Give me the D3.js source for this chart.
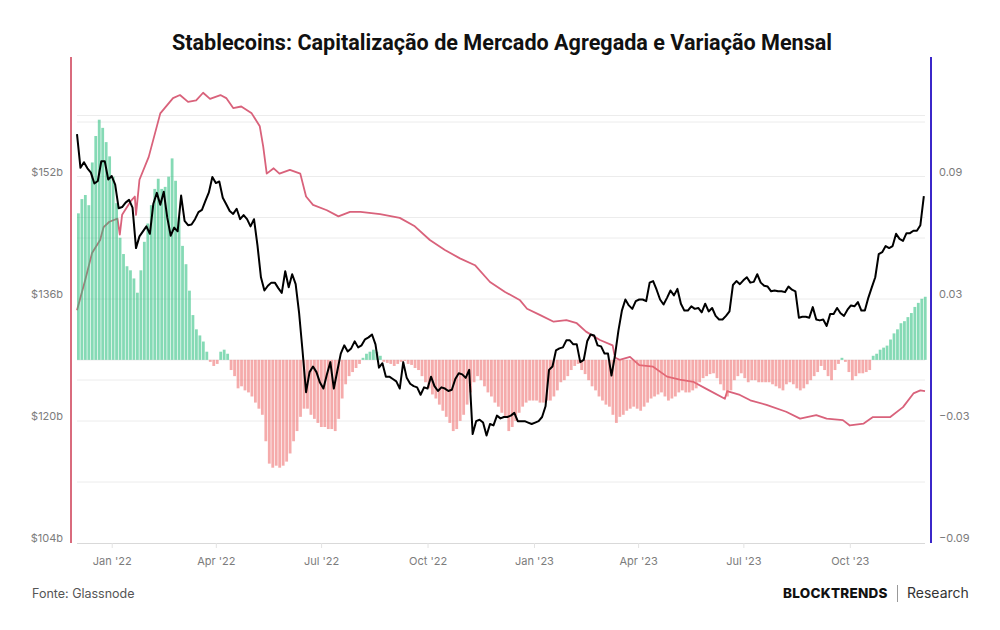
<!DOCTYPE html>
<html>
<head>
<meta charset="utf-8">
<script src="https://cdn.jsdelivr.net/npm/d3@7"></script>
<style>
  body { margin: 0; background: #fff; }
  svg { display: block; }
  text { font-family: Inter, "Noto Sans", sans-serif; }
</style>
</head>
<body>
<div id="chart"></div>
<script>
// stablecoin aggregate market cap, $b (left axis)
const capDates = ["2021-12-02","2021-12-09","2021-12-15","2021-12-22","2021-12-25","2021-12-30",
  "2022-01-06","2022-01-08","2022-01-10","2022-01-18","2022-01-21","2022-01-22","2022-01-25",
  "2022-02-02","2022-02-12","2022-02-23","2022-03-01","2022-03-08","2022-03-15","2022-03-21",
  "2022-03-27","2022-04-05","2022-04-10","2022-04-16","2022-04-23","2022-05-02","2022-05-09",
  "2022-05-12","2022-05-15","2022-05-21","2022-05-26","2022-06-04","2022-06-13","2022-06-18",
  "2022-06-24","2022-07-06","2022-07-16","2022-07-26","2022-08-04","2022-08-21","2022-09-07",
  "2022-09-20","2022-10-03","2022-10-16","2022-10-29","2022-11-11","2022-11-24","2022-12-07",
  "2022-12-20","2022-12-26","2023-01-06","2023-01-18","2023-01-29","2023-02-07","2023-02-15",
  "2023-02-27","2023-03-10","2023-03-12","2023-03-16","2023-03-25","2023-04-02","2023-04-14",
  "2023-04-26","2023-05-07","2023-05-19","2023-05-30","2023-06-15","2023-06-17","2023-06-28",
  "2023-07-07","2023-07-21","2023-08-07","2023-08-19","2023-09-02","2023-09-11","2023-09-25",
  "2023-10-01","2023-10-13","2023-10-21","2023-11-05","2023-11-16","2023-11-25","2023-12-01",
  "2023-12-05"];
const capValues = [134.5,138.4,142.0,143.7,145.4,146.1,
  146.5,144.4,147.0,148.9,149.4,147.0,151.6,
  154.6,160.3,162.3,162.7,161.8,162.0,163.0,
  162.2,162.7,162.3,161.0,161.2,160.3,158.6,
  155.9,152.4,153.1,152.4,152.9,152.4,149.4,
  148.3,147.6,146.8,147.4,147.4,147.1,146.6,
  145.5,143.7,142.4,141.3,140.4,138.2,136.9,
  135.8,134.7,133.9,133.0,133.2,132.8,131.7,
  130.6,129.9,128.3,128.0,128.4,127.3,127.1,
  125.8,125.4,125.1,124.2,122.9,123.9,123.4,
  122.7,122.1,121.2,120.3,120.75,120.3,120.1,
  119.4,119.65,120.5,120.5,121.8,123.6,124.0,
  123.9];

// BTC price, $k (hidden log axis) and 30-day change (right axis), one point every 3 days
const seriesStart = "2021-12-02";
const stepDays = 3;
const btcValues = [
  57.0,49.4,50.6,49.3,48.4,46.2,46.7,50.8,50.8,47.0,
  47.7,46.0,41.6,41.8,42.6,43.1,41.7,35.1,36.9,37.7,38.5,
  37.3,42.4,44.4,42.2,44.6,40.0,37.0,38.3,37.7,
  43.9,39.4,38.7,38.8,39.7,40.9,41.3,42.9,44.5,47.5,
  46.3,46.6,43.5,42.3,41.1,40.6,41.5,39.7,40.4,39.7,
  38.5,39.7,35.5,31.0,29.3,29.9,30.3,30.3,29.6,29.0,31.8,
  29.7,31.4,30.1,26.6,22.6,19.0,20.7,21.2,20.7,19.8,
  19.3,20.5,21.6,19.3,20.8,22.4,23.2,22.6,22.9,23.6,
  23.0,23.2,23.8,24.0,24.3,23.3,21.1,21.5,20.3,20.3,
  20.1,19.9,19.3,21.6,20.2,19.7,19.5,19.4,18.8,19.4,
  19.3,20.3,19.5,19.1,19.4,19.3,19.1,19.2,20.1,20.6,20.5,
  20.2,20.9,15.9,16.8,16.9,16.7,15.8,16.6,16.5,17.2,
  17.0,17.1,17.1,17.2,17.4,16.8,16.8,16.8,16.7,16.6,
  16.7,16.8,17.1,17.9,20.9,21.2,22.7,22.9,23.0,23.7,
  23.7,23.3,23.3,21.6,21.8,23.6,24.3,24.2,23.2,23.1,
  22.4,22.4,20.4,22.2,24.7,26.9,28.2,27.5,27.1,28.0,
  28.2,28.2,28.0,30.3,30.5,29.4,28.2,27.6,28.4,29.3,
  28.7,29.5,27.7,26.9,26.9,27.4,27.1,27.2,26.7,27.7,
  26.8,27.2,26.3,25.9,25.9,26.3,26.8,30.0,30.5,30.1,
  30.6,31.0,30.3,30.4,31.4,30.3,29.9,29.8,29.2,29.3,29.2,
  29.2,29.1,29.8,29.4,29.2,26.1,26.2,26.2,26.1,27.3,
  25.9,25.8,25.9,25.2,26.5,26.5,27.2,26.6,26.3,27.0,
  27.5,27.4,27.9,26.9,26.9,28.4,29.7,31.0,34.2,34.5,
  35.4,35.1,35.4,37.3,36.5,36.2,37.4,37.4,37.8,37.8,
  38.7,43.8];
const changeValues = [
  .072,.079,.081,.076,.097,.110,.118,.114,.107,.100,
  .090,.077,.060,.052,.046,.044,.040,.033,.044,.058,
  .067,.076,.084,.089,.084,.085,.090,.099,.088,.070,
  .056,.047,.034,.022,.015,.012,.009,.004,-.001,-.003,
  -.002,.004,.005,.003,-.005,-.008,-.014,-.013,-.015,-.016,
  -.018,-.021,-.024,-.027,-.040,-.051,-.053,-.052,-.053,-.052,
  -.050,-.046,-.040,-.035,-.028,-.024,-.024,-.027,-.029,-.031,
  -.033,-.033,-.034,-.034,-.035,-.029,-.019,-.012,-.008,-.006,
  -.004,-.002,.001,.003,.004,.005,.004,.002,-.001,-.0015,
  -.002,-.003,-.002,-.001,-.0005,-.002,-.0025,-.004,-.005,-.008,
  -.011,-.014,-.017,-.019,-.022,-.025,-.028,-.031,-.035,-.034,
  -.030,-.027,-.022,-.016,-.011,-.008,-.010,-.013,-.016,-.018,
  -.021,-.023,-.026,-.028,-.035,-.033,-.030,-.026,-.023,-.021,
  -.020,-.020,-.020,-.021,-.021,-.020,-.020,-.018,-.015,-.011,
  -.010,-.008,-.005,-.003,-.002,-.005,-.007,-.010,-.013,-.015,
  -.018,-.020,-.022,-.023,-.027,-.031,-.028,-.027,-.025,-.024,
  -.023,-.024,-.025,-.023,-.021,-.019,-.018,-.017,-.016,-.018,
  -.020,-.019,-.018,-.016,-.015,-.016,-.016,-.015,-.014,-.011,
  -.009,-.008,-.007,-.0066,-.009,-.012,-.015,-.018,-.015,-.010,
  -.008,-.0066,-.009,-.011,-.010,-.010,-.011,-.011,-.011,-.011,
  -.012,-.013,-.014,-.015,-.012,-.011,-.012,-.014,-.015,-.014,
  -.012,-.010,-.008,-.006,-.003,-.005,-.008,-.010,-.005,-.002,
  .001,-.001,-.006,-.010,-.008,-.0066,-.0066,-.006,-.005,.002,
  .003,.005,.006,.007,.010,.013,.015,.018,.019,.021,
  .023,.026,.028,.030,.031];

// axis ticks
const capTicks = [104, 120, 136, 152];
const changeTicks = [-0.09, -0.03, 0.03, 0.09];
const changeGrid = [-0.09, -0.06, -0.03, 0, 0.03, 0.06, 0.09, 0.12];
const btcGrid = [20, 40, 60];
const monthTicks = ["2022-01-01","2022-04-01","2022-07-01","2022-10-01",
  "2023-01-01","2023-04-01","2023-07-01","2023-10-01"];

const parse = d3.timeParse("%Y-%m-%d");
const start = parse(seriesStart);
const stepDates = btcValues.map((_, i) => d3.timeDay.offset(start, i * stepDays));

const svg = d3.select('#chart')
  .append('svg')
  .attr('width', 1000)
  .attr('height', 630);

const plotTop = 54.6, plotBottom = 543;

const x = d3.scaleTime()
  .domain([parse("2021-12-02"), parse("2023-12-05")])
  .range([77, 925]);
const yCap = d3.scaleLinear().domain([104, 168]).range([plotBottom, plotTop]);
const yChg = d3.scaleLinear().domain([-0.09, 0.15]).range([plotBottom, plotTop]);
const yBtc = d3.scaleLog().domain([10, 80]).range([plotBottom, plotTop]);

// title
svg.append('text')
  .attr('x', 502).attr('y', 50)
  .attr('text-anchor', 'middle')
  .style('font-family', 'Roboto, sans-serif')
  .style('font-weight', 700)
  .style('font-size', '21.6px')
  .attr('fill', '#111')
  .text('Stablecoins: Capitalização de Mercado Agregada e Variação Mensal');

// gridlines
const grid = svg.append('g').attr('stroke', '#ececec').attr('stroke-width', 1);
const gridYs = [...new Set([
  ...capTicks.map(yCap),
  ...changeGrid.map(yChg),
  ...btcGrid.map(yBtc)
].map(v => Math.round(v * 2) / 2))];
grid.selectAll('line')
  .data(gridYs.filter(y => y < plotBottom - 1))
  .join('line')
  .attr('x1', 77).attr('x2', 925)
  .attr('y1', d => d).attr('y2', d => d);

// x axis
const xAxis = svg.append('g')
  .attr('transform', `translate(0,${plotBottom})`)
  .call(d3.axisBottom(x)
    .tickValues(monthTicks.map(parse))
    .tickFormat(d3.timeFormat("%b '%y"))
    .tickSize(5)
    .tickPadding(9));
xAxis.select('.domain').attr('stroke', '#d9d9d9').attr('d', 'M77,0.5H925');
xAxis.selectAll('.tick line').attr('stroke', '#e3e3e3');
xAxis.selectAll('.tick text')
  .attr('fill', '#7c7c7c')
  .style('font-size', '11px')
  .style('font-family', 'Inter, sans-serif');

// market cap line (under bars)
const capLine = d3.line()
  .x((d, i) => x(parse(capDates[i])))
  .y(d => yCap(d));
svg.append('path')
  .datum(capValues)
  .attr('fill', 'none')
  .attr('stroke', '#d9627b')
  .attr('stroke-width', 1.8)
  .attr('stroke-linejoin', 'round')
  .attr('d', capLine);

// monthly change bars
const barW = 2.8;
svg.append('g')
  .selectAll('rect')
  .data(changeValues)
  .join('rect')
  .attr('x', (d, i) => x(stepDates[i]))
  .attr('width', barW)
  .attr('y', d => d >= 0 ? yChg(d) : yChg(0))
  .attr('height', d => Math.abs(yChg(d) - yChg(0)))
  .attr('fill', d => d >= 0 ? '#2dbf7f' : '#ee6f6f')
  .attr('fill-opacity', 0.58);

// BTC line
const btcLine = d3.line()
  .x((d, i) => x(stepDates[i]))
  .y(d => yBtc(d));
svg.append('path')
  .datum(btcValues)
  .attr('fill', 'none')
  .attr('stroke', '#000')
  .attr('stroke-width', 2)
  .attr('stroke-linejoin', 'round')
  .attr('d', btcLine);

// axis lines
svg.append('line')
  .attr('x1', 71).attr('x2', 71).attr('y1', 57).attr('y2', plotBottom)
  .attr('stroke', '#d96b7d').attr('stroke-width', 2);
svg.append('line')
  .attr('x1', 931).attr('x2', 931).attr('y1', 57).attr('y2', plotBottom)
  .attr('stroke', '#3b27c9').attr('stroke-width', 2);

// left labels
svg.append('g')
  .selectAll('text')
  .data(capTicks)
  .join('text')
  .attr('x', 63)
  .attr('y', d => yCap(d) - 5)
  .attr('dy', '0.35em')
  .attr('text-anchor', 'end')
  .attr('fill', '#7c7c7c')
  .style('font-size', '11px')
  .text(d => `$${d}b`);

// right labels
svg.append('g')
  .selectAll('text')
  .data(changeTicks)
  .join('text')
  .attr('x', 939)
  .attr('y', d => yChg(d) - 5)
  .attr('dy', '0.35em')
  .attr('fill', '#7c7c7c')
  .style('font-size', '11px')
  .text(d => d3.format('.2f')(d));

// footer
svg.append('text')
  .attr('x', 32).attr('y', 598)
  .attr('fill', '#555')
  .style('font-size', '12.5px')
  .text('Fonte: Glassnode');

svg.append('text')
  .attr('x', 783).attr('y', 598)
  .attr('fill', '#111')
  .style('font-family', 'Inter, sans-serif')
  .style('font-weight', 800)
  .style('font-size', '13.5px')
  .style('letter-spacing', '0.25px')
  .text('BLOCKTRENDS');
svg.append('line')
  .attr('x1', 897.5).attr('x2', 897.5).attr('y1', 585).attr('y2', 602)
  .attr('stroke', '#999').attr('stroke-width', 1);
svg.append('text')
  .attr('x', 907).attr('y', 598)
  .attr('fill', '#333')
  .style('font-size', '14px')
  .text('Research');
</script>
</body>
</html>
